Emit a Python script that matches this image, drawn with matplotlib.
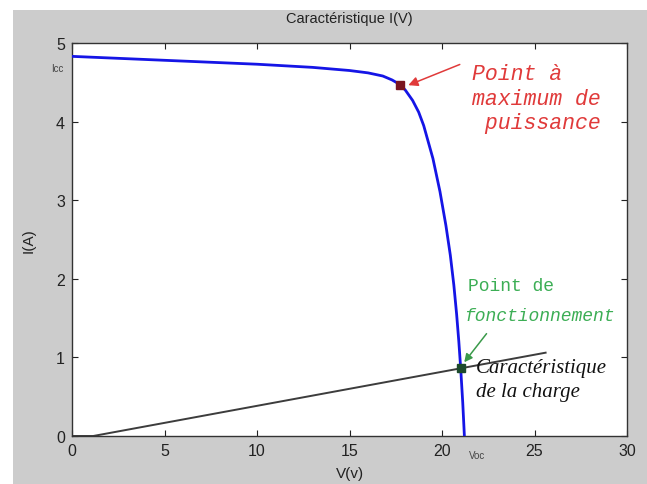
import numpy as np
import matplotlib.pyplot as plt
from matplotlib.patches import Rectangle

# caracteristique I(V) du panneau
v_pv = [0, 5, 10, 13, 15, 16, 16.8, 17.3, 17.74, 18.02, 18.41, 18.74, 19.01,
        19.51, 19.89, 20.21, 20.45, 20.64, 20.79, 20.91, 21.01, 21.12, 21.21]
i_pv = [4.83, 4.78, 4.73, 4.69, 4.65, 4.62, 4.58, 4.53, 4.47, 4.40, 4.27,
        4.12, 3.95, 3.53, 3.11, 2.68, 2.30, 1.92, 1.55, 1.20, 0.86, 0.43, 0.0]

# droite de charge
v_load = [0, 1.15, 25.6]
i_load = [0, 0, 1.06]

# points remarquables
v_mpp, i_mpp = 17.74, 4.47
v_op, i_op = 21.01, 0.86
v_oc, i_cc = 21.9, 4.68

plt.rcParams['font.family'] = ['Liberation Sans', 'DejaVu Sans']

fig = plt.figure(figsize=(6.47, 4.85), dpi=100, facecolor='white')
# fond gris style matlab
fig.patches.append(Rectangle((13 / 647, 0), 1, 1 - 11 / 485, transform=fig.transFigure,
                             facecolor='#cccccc', edgecolor='none', zorder=-10))

ax = fig.add_axes([72 / 647, 1 - 437 / 485, (627 - 72) / 647, (437 - 44) / 485])
ax.set_facecolor('white')

ax.plot(v_pv, i_pv, color='#1515e6', lw=2, zorder=3, solid_joinstyle='round')
ax.plot(v_load, i_load, color='#3c3c3c', lw=1.4, zorder=2)
ax.plot([v_mpp], [i_mpp], marker='s', ms=6, color='#7a1520', zorder=4)
ax.plot([v_op], [i_op], marker='s', ms=6, color='#1c4a2c', zorder=4)

ax.set_xlim(0, 30)
ax.set_ylim(0, 5)
ax.set_xticks(range(0, 31, 5))
ax.set_yticks(range(0, 6))
ax.tick_params(direction='in', top=True, right=True, length=4, labelsize=11.5,
               colors='#222222', pad=5)
for s in ax.spines.values():
    s.set_color('#333333')
    s.set_linewidth(1)

ax.set_title('Caractéristique I(V)', fontsize=10.5, color='#222222', pad=15)
ax.set_xlabel('V(v)', fontsize=11, color='#222222', labelpad=6)
ax.set_ylabel('I(A)', fontsize=11, color='#222222', labelpad=15)

# Icc et Voc
ax.text(-0.015, i_cc, 'Icc', transform=ax.get_yaxis_transform(), ha='right',
        va='center', fontsize=7, color='#444444')
ax.text(v_oc, -0.035, 'Voc', transform=ax.get_xaxis_transform(), ha='center',
        va='top', fontsize=7, color='#444444')

# annotations
mono = 'Liberation Mono'
ax.annotate('', xy=(v_mpp + 0.3, i_mpp - 0.02), xytext=(21.1, 4.74),
            arrowprops=dict(arrowstyle='-|>', color='#e03a3a', lw=1.1,
                            mutation_scale=14), zorder=5)
ax.text(21.6, 4.74, 'Point à\nmaximum de\n puissance', fontfamily=mono,
        fontstyle='italic', fontsize=15.5, color='#e03a3a', va='top',
        ha='left', linespacing=1.2)

ax.annotate('', xy=(v_op + 0.1, i_op + 0.05), xytext=(22.5, 1.33),
            arrowprops=dict(arrowstyle='-|>', color='#3a9a4a', lw=1.1,
                            mutation_scale=12), zorder=5)
ax.text(21.4, 1.92, 'Point de', fontfamily=mono, fontsize=13,
        color='#3cae55', va='center', ha='left')
ax.text(21.2, 1.53, 'fonctionnement', fontfamily=mono, fontstyle='italic',
        fontsize=13, color='#3cae55', va='center', ha='left')

ax.text(21.85, 0.72, 'Caractéristique\nde la charge', fontfamily='Liberation Serif',
        fontstyle='italic', fontsize=15, color='#111111', va='center', ha='left',
        linespacing=1.35)

fig.savefig('out.png', dpi=100, facecolor='white')
